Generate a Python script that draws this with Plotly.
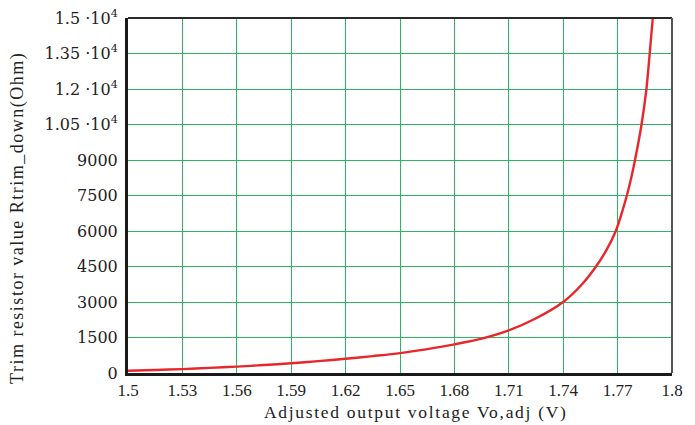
import plotly.graph_objects as go

# Data
voltage = [1.500, 1.515, 1.530, 1.545, 1.560, 1.575, 1.590, 1.605, 1.620, 1.635,
           1.650, 1.669, 1.680, 1.695, 1.710, 1.7245, 1.740, 1.7504,
           1.7581, 1.7639, 1.7690, 1.7725, 1.7751, 1.7774, 1.7796, 1.7832,
           1.7859, 1.7877, 1.7894]
r_trim = [95, 128, 165, 215, 270, 335, 410, 500, 600, 715,
          840, 1060, 1210, 1450, 1800, 2290, 3000, 3750,
          4500, 5200, 6000, 6810, 7500, 8210, 9000, 10500,
          12000, 13500, 15000]

y_tickvals = [0, 1500, 3000, 4500, 6000, 7500, 9000, 10500, 12000, 13500, 15000]
y_ticktext = ["0", "1500", "3000", "4500", "6000", "7500", "9000",
              "1.05 ·10<sup>4</sup>", "1.2 ·10<sup>4</sup>",
              "1.35 ·10<sup>4</sup>", "1.5 ·10<sup>4</sup>"]
x_tickvals = [1.50, 1.53, 1.56, 1.59, 1.62, 1.65, 1.68, 1.71, 1.74, 1.77, 1.80]
x_ticktext = ["1.5", "1.53", "1.56", "1.59", "1.62", "1.65", "1.68",
              "1.71", "1.74", "1.77", "1.8"]

x_title = "Adjusted output voltage Vo,adj (V)"
y_title = "Trim resistor value Rtrim_down(Ohm)"

FONT = "Liberation Serif"
YFONT = "DejaVu Serif"
GRID = "#2db564"

fig = go.Figure()
fig.add_trace(go.Scatter(
    x=voltage, y=r_trim, mode="lines",
    line=dict(color="#e8262c", width=2.4, shape="spline", smoothing=0.8),
    showlegend=False, hoverinfo="x+y",
))

fig.update_layout(
    width=687, height=417,
    margin=dict(l=120, r=23, t=10, b=52),
    paper_bgcolor="white", plot_bgcolor="white",
    font=dict(family=FONT, size=16, color="#222222"),
    xaxis=dict(
        range=[1.5, 1.8], tickvals=x_tickvals, ticktext=x_ticktext,
        showgrid=True, gridcolor=GRID, gridwidth=1.3,
        showline=True, linecolor="#1a1a1a", linewidth=3,
        ticks="", zeroline=False, tickfont=dict(family=FONT, size=17),
        ticklabeloverflow="allow", automargin=False,
    ),
    yaxis=dict(
        range=[0, 15000], tickvals=y_tickvals, ticktext=y_ticktext,
        showgrid=True, gridcolor=GRID, gridwidth=1.3,
        showline=True, linecolor="#1a1a1a", linewidth=3,
        ticks="", zeroline=False, tickfont=dict(family=YFONT, size=16),
        ticklabeloverflow="allow", automargin=False, ticklabelstandoff=4,
    ),
)

fig.add_annotation(
    text="<span style='letter-spacing:1.7px'>" + x_title + "</span>",
    xref="paper", yref="paper", x=0.529, y=-0.110,
    xanchor="center", yanchor="middle", showarrow=False,
    font=dict(family=FONT, size=17.5, color="#222222"),
)
fig.add_annotation(
    text="<span style='letter-spacing:1.5px'>" + y_title + "</span>",
    xref="paper", yref="paper", x=-0.202, y=0.437, textangle=-90,
    xanchor="center", yanchor="middle", showarrow=False,
    font=dict(family=FONT, size=18, color="#222222"),
)

# top and right frame lines
fig.add_shape(type="line", xref="paper", yref="paper", x0=0, x1=1, y0=1, y1=1,
              line=dict(color="#2a2a2a", width=2))
fig.add_shape(type="line", xref="paper", yref="paper", x0=1, x1=1, y0=0, y1=1,
              line=dict(color="#555555", width=2))

fig.write_html("out.html")
